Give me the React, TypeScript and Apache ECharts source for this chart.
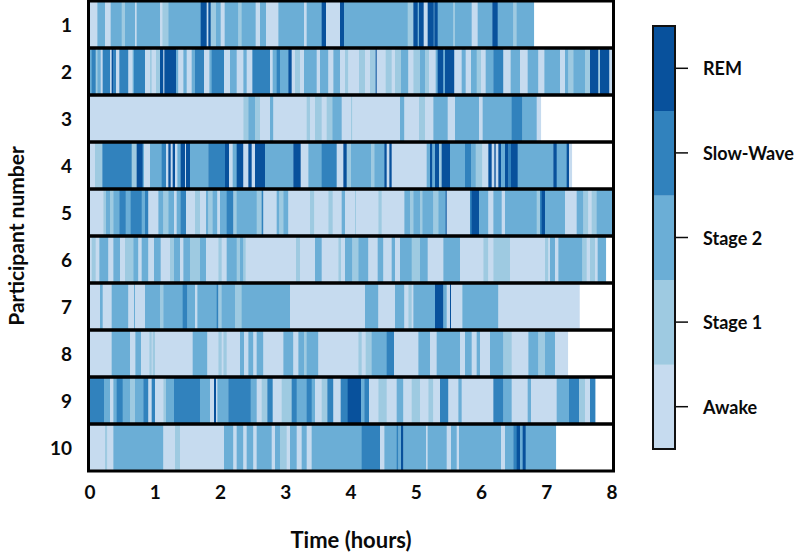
import React, { useEffect, useRef } from "react";
import * as echarts from "echarts";

// Every run is [sleep stage, end of the run in scoring epochs]; the next run starts where it ends.
const EPOCHS_PER_HOUR = 195.75;
const stageNames = ["Awake", "Stage 1", "Stage 2", "Slow-Wave", "REM"];
const stageColors = ["#c6dbef", "#9ecae1", "#6baed6", "#3182bd", "#08519c"];
const participantNames = ["1", "2", "3", "4", "5", "6", "7", "8", "9", "10"];

const p1 = [[0,22],[2,45],[0,62],[2,95],[1,105],[2,135],[0,140],[2,210],[0,217],[1,235],[2,332],[4,350],[0,355],[4,362],[1,378],[2,392],[0,404],[2,445],[1,455],[2,497],[0,510],[2,528],[0,565],[2,642],[0,650],[2,695],[4,708],[0,750],[4,762],[2,953],[1,970],[4,983],[2,987],[4,1001],[0,1013],[4,1031],[2,1033],[4,1043],[2,1090],[1,1095],[2,1145],[0,1163],[2,1207],[4,1223],[2,1270],[1,1280],[2,1331]];
const p2 = [[2,5],[3,17],[1,22],[2,32],[0,38],[3,60],[0,65],[4,70],[3,78],[0,88],[3,115],[0,128],[2,132],[3,165],[0,180],[1,185],[0,198],[1,210],[4,220],[0,223],[4,258],[2,265],[0,280],[2,290],[0,305],[2,315],[3,342],[0,358],[2,365],[3,402],[0,420],[2,440],[0,460],[2,470],[0,487],[3,540],[0,548],[2,560],[3,570],[2,595],[4,605],[0,615],[1,630],[0,642],[2,680],[0,690],[2,715],[0,730],[2,750],[0,765],[1,775],[0,807],[1,825],[0,840],[1,857],[4,860],[0,887],[1,905],[0,915],[1,933],[2,955],[0,970],[1,990],[2,1005],[1,1017],[0,1037],[2,1043],[4,1060],[2,1065],[4,1093],[0,1115],[2,1127],[0,1143],[2,1160],[1,1173],[0,1187],[2,1210],[3,1240],[0,1262],[2,1290],[0,1313],[2,1345],[0,1363],[2,1410],[0,1425],[2,1435],[1,1450],[2,1485],[1,1500],[4,1525],[1,1530],[4,1558],[0,1566]];
const p3 = [[0,460],[1,475],[2,495],[1,510],[0,540],[2,550],[0,650],[1,660],[0,675],[1,695],[0,710],[1,727],[2,755],[0,783],[1,787],[0,930],[2,943],[0,987],[1,1005],[0,1030],[2,1073],[0,1095],[2,1167],[0,1178],[2,1265],[3,1297],[2,1340],[0,1352]];
const p4 = [[0,15],[1,37],[3,125],[1,140],[4,158],[2,162],[0,180],[2,215],[3,228],[0,235],[4,242],[0,248],[4,255],[0,262],[2,272],[4,285],[0,288],[4,300],[2,355],[3,405],[4,417],[0,428],[2,440],[4,460],[0,475],[4,485],[0,495],[4,525],[2,610],[4,632],[0,655],[2,695],[3,740],[0,760],[4,770],[1,783],[2,843],[1,853],[2,883],[4,890],[0,898],[4,905],[0,1010],[2,1020],[4,1027],[2,1035],[4,1047],[1,1055],[4,1080],[2,1125],[3,1143],[2,1157],[1,1177],[0,1195],[4,1205],[0,1213],[4,1217],[0,1225],[4,1233],[2,1245],[4,1255],[3,1263],[4,1283],[2,1390],[4,1400],[2,1430],[4,1437],[0,1445]];
const p5 = [[0,40],[1,48],[2,60],[1,70],[2,88],[3,107],[2,122],[3,155],[2,165],[3,175],[0,205],[2,220],[1,235],[2,252],[0,260],[2,272],[3,288],[0,315],[1,330],[0,348],[2,355],[1,368],[2,382],[0,390],[2,410],[3,430],[1,440],[2,500],[1,515],[3,520],[0,560],[2,568],[1,580],[2,595],[0,660],[1,673],[0,715],[1,728],[0,755],[2,765],[0,795],[1,798],[0,865],[1,875],[0,943],[2,960],[1,970],[2,990],[1,997],[2,1030],[1,1045],[2,1067],[4,1070],[0,1140],[3,1145],[4,1167],[2,1195],[0,1210],[2,1235],[0,1245],[2,1340],[1,1350],[3,1355],[4,1365],[2,1425],[0,1460],[2,1480],[1,1495],[0,1505],[1,1520],[2,1566]];
const p6 = [[0,5],[1,17],[0,28],[2,55],[0,70],[2,90],[0,105],[1,130],[2,145],[0,155],[2,175],[0,192],[2,212],[0,240],[1,252],[2,270],[0,280],[2,300],[1,330],[2,348],[0,385],[1,395],[0,410],[2,440],[1,450],[2,460],[1,467],[0,618],[1,630],[0,675],[2,695],[0,745],[1,753],[0,765],[2,787],[1,805],[2,835],[0,863],[2,880],[0,905],[2,915],[0,930],[2,965],[1,990],[2,1013],[0,1060],[2,1110],[0,1180],[1,1195],[0,1210],[1,1260],[0,1365],[1,1375],[0,1380],[2,1395],[0,1405],[2,1477],[1,1490],[0,1500],[1,1515],[0,1523],[2,1547]];
const p7 = [[0,30],[2,38],[0,65],[2,115],[0,132],[2,135],[0,165],[2,210],[1,220],[2,278],[3,292],[2,315],[0,322],[2,380],[3,385],[1,395],[2,435],[1,455],[2,600],[0,825],[2,865],[0,915],[2,943],[0,955],[1,965],[0,970],[2,1035],[4,1060],[2,1070],[0,1080],[4,1083],[0,1117],[2,1225],[0,1468]];
const p8 = [[0,65],[2,120],[0,136],[2,153],[0,178],[1,185],[0,188],[1,195],[0,308],[2,352],[0,385],[1,395],[0,400],[1,410],[0,450],[2,462],[0,475],[2,490],[0,500],[2,520],[0,580],[2,610],[0,625],[2,642],[1,650],[2,685],[0,805],[1,815],[0,827],[1,845],[2,890],[3,912],[0,985],[2,1020],[0,1040],[2,1110],[0,1125],[2,1145],[0,1160],[2,1170],[0,1200],[2,1240],[1,1265],[0,1315],[2,1345],[1,1365],[2,1395],[0,1433]];
const p9 = [[3,42],[2,60],[0,70],[2,80],[3,98],[2,120],[1,135],[2,160],[3,175],[0,185],[3,195],[0,220],[1,228],[2,252],[3,330],[2,360],[0,372],[4,378],[0,382],[2,415],[3,482],[2,500],[0,515],[1,532],[3,548],[0,575],[1,605],[3,620],[2,650],[3,665],[2,675],[0,695],[1,712],[3,730],[0,752],[3,773],[4,813],[2,823],[3,837],[0,865],[1,890],[0,920],[2,940],[0,965],[1,990],[0,1015],[1,1030],[0,1050],[3,1075],[0,1105],[2,1115],[0,1210],[3,1240],[2,1265],[0,1313],[2,1323],[0,1400],[2,1437],[3,1467],[1,1485],[0,1500],[3,1515]];
const p10 = [[0,45],[1,52],[0,70],[2,220],[0,255],[1,270],[0,402],[2,430],[0,440],[2,460],[0,470],[2,490],[0,500],[2,545],[0,555],[2,570],[1,590],[0,600],[2,620],[0,635],[2,650],[0,665],[2,815],[3,870],[0,883],[2,920],[3,925],[2,933],[4,940],[2,1008],[0,1013],[2,1070],[0,1083],[2,1100],[0,1107],[2,1233],[0,1245],[2,1270],[3,1280],[4,1290],[2,1298],[4,1307],[2,1397]];
const participants = [p1, p2, p3, p4, p5, p6, p7, p8, p9, p10];

const font = "Lato";
const ink = "#0a0a0a";

function buildRuns() {
  const rows: number[][] = [];
  participants.forEach((runs, row) => {
    let start = 0;
    runs.forEach(([stage, end]) => {
      rows.push([start / EPOCHS_PER_HOUR, end / EPOCHS_PER_HOUR, row, stage]);
      start = end;
    });
  });
  return rows;
}

export default function App() {
  const ref = useRef<HTMLDivElement>(null);
  useEffect(() => {
    const chart = echarts.init(ref.current!, undefined, { renderer: "svg" });
    chart.setOption({
      animation: false,
      backgroundColor: "#ffffff",
      textStyle: { fontFamily: font },
      grid: [
        { left: 90, top: 1, width: 522, height: 470, outerBoundsMode: "none" },
        { left: 653, top: 26, width: 22, height: 423, outerBoundsMode: "none" },
      ],
      xAxis: [
        {
          gridIndex: 0, type: "value", min: 0, max: 8, interval: 1,
          splitLine: { show: false }, axisLine: { show: false }, axisTick: { show: false },
          axisLabel: { margin: 11, fontSize: 19, fontWeight: "bold", color: ink, fontFamily: font },
          name: "Time (hours)", nameLocation: "middle", nameGap: 57,
          nameTextStyle: { fontSize: 22, fontWeight: "bold", color: ink, fontFamily: font },
        },
        { gridIndex: 1, type: "value", min: 0, max: 1, show: false },
      ],
      yAxis: [
        {
          gridIndex: 0, type: "category", inverse: true, data: participantNames,
          splitLine: { show: false }, axisLine: { show: false }, axisTick: { show: false },
          axisLabel: { margin: 18, fontSize: 19, fontWeight: "bold", color: ink, fontFamily: font },
          name: "Participant number", nameLocation: "middle", nameRotate: 90, nameGap: 64,
          nameTextStyle: { fontSize: 21, fontWeight: "bold", color: ink, fontFamily: font },
        },
        {
          gridIndex: 1, type: "category", inverse: true, position: "right",
          data: stageNames.slice().reverse(),
          splitLine: { show: false }, axisLine: { show: false }, axisTick: { show: false },
          axisLabel: { margin: 28, fontSize: 18, fontWeight: "bold", color: ink, fontFamily: font },
        },
      ],
      series: [
        {
          type: "custom", xAxisIndex: 0, yAxisIndex: 0, z: 2, clip: false,
          data: buildRuns(),
          encode: { x: [0, 1], y: 2 },
          renderItem: (_: any, api: any) => {
            const a = api.coord([api.value(0), api.value(2)]);
            const b = api.coord([api.value(1), api.value(2)]);
            const h = api.size([0, 1])[1];
            return {
              type: "rect",
              shape: { x: a[0], y: a[1] - h / 2, width: b[0] - a[0] + 0.4, height: h },
              style: { fill: stageColors[api.value(3)] },
            };
          },
        },
        {
          type: "custom", xAxisIndex: 0, yAxisIndex: 0, z: 3, clip: false,
          data: participantNames.map((_, i) => [0, 8, i]),
          encode: { x: [0, 1], y: 2 },
          renderItem: (_: any, api: any) => {
            const a = api.coord([api.value(0), api.value(2)]);
            const b = api.coord([api.value(1), api.value(2)]);
            const h = api.size([0, 1])[1];
            return {
              type: "rect",
              shape: { x: a[0] - 1.5, y: a[1] - h / 2, width: b[0] - a[0] + 3, height: h },
              style: { fill: "none", stroke: "#000000", lineWidth: 3 },
            };
          },
        },
        {
          type: "custom", xAxisIndex: 1, yAxisIndex: 1, z: 2, clip: false,
          data: stageNames.map((_, i) => [0, 1, stageNames.length - 1 - i, i]),
          encode: { x: [0, 1], y: 2 },
          renderItem: (_: any, api: any) => {
            const a = api.coord([api.value(0), api.value(2)]);
            const b = api.coord([api.value(1), api.value(2)]);
            const h = api.size([0, 1])[1];
            return {
              type: "group",
              children: [
                {
                  type: "rect",
                  shape: { x: a[0], y: a[1] - h / 2, width: b[0] - a[0], height: h + 0.3 },
                  style: { fill: stageColors[api.value(3)] },
                },
                {
                  type: "line",
                  shape: { x1: b[0], y1: a[1], x2: b[0] + 13, y2: a[1] },
                  style: { stroke: ink, lineWidth: 1.5 },
                },
              ],
            };
          },
        },
      ],
      graphic: [
        {
          type: "rect", z: 10, silent: true,
          shape: { x: 653, y: 26, width: 22, height: 423 },
          style: { fill: "none", stroke: "#111111", lineWidth: 2 },
        },
      ],
    });
    return () => chart.dispose();
  }, []);
  return (
    <div
      ref={ref}
      style={{ position: "fixed", left: 0, top: 0, width: 800, height: 552 }}
    />
  );
}
